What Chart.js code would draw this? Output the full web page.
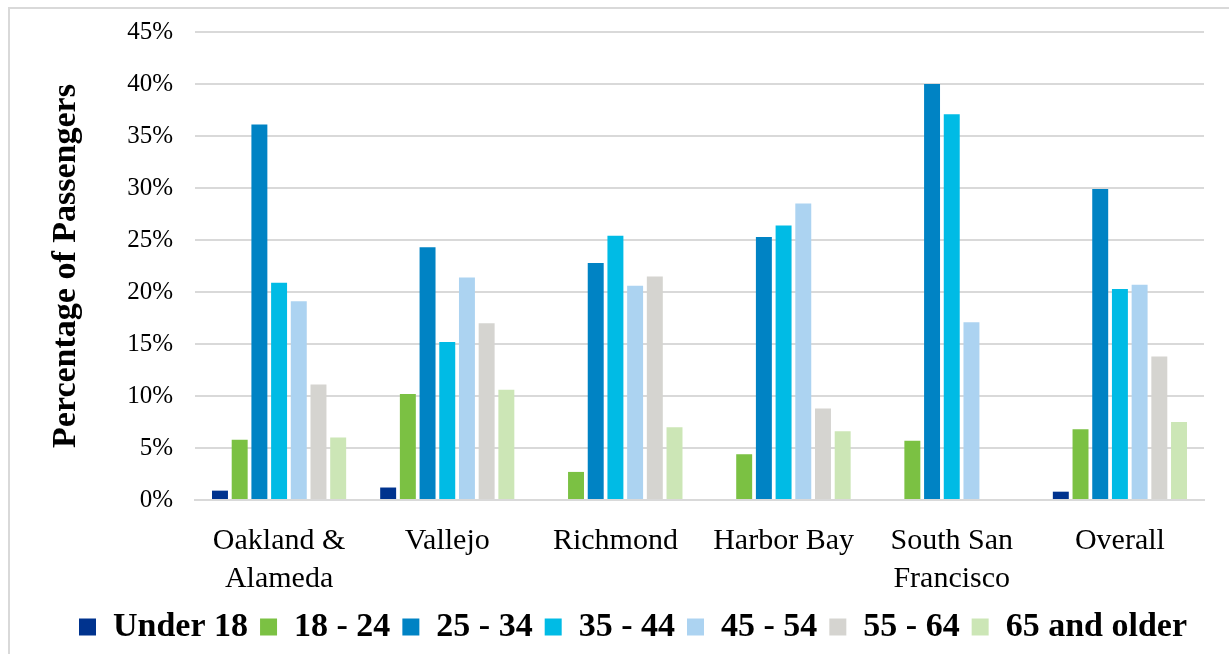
<!DOCTYPE html>
<html>
<head>
<meta charset="utf-8">
<script src="https://cdn.jsdelivr.net/npm/chart.js@4/dist/chart.umd.min.js"></script>
<style>
  html, body { margin: 0; padding: 0; background: #ffffff; }
  #wrap { position: relative; width: 1229px; height: 654px; overflow: hidden; }
  #frame { position: absolute; left: 8px; top: 7px; width: 1300px; height: 700px;
           border-top: 2px solid #d9d9d9; border-left: 2px solid #d9d9d9; }
  #chart { position: absolute; left: 0; top: 0; }
</style>
</head>
<body>
<div id="wrap">
  <div id="frame"></div>
  <canvas id="chart" width="1229" height="654"></canvas>
</div>
<script>
// Ferry terminals and the share of riders in each age band (percent)
const terminals = [["Oakland &", "Alameda"], "Vallejo", "Richmond", "Harbor Bay", ["South San", "Francisco"], "Overall"];
const ageBands = ["Under 18", "18 - 24", "25 - 34", "35 - 44", "45 - 54", "55 - 64", "65 and older"];

const under18   = [0.9, 1.2, null, null, null, 0.8];
const age18to24 = [5.8, 10.2, 2.7, 4.4, 5.7, 6.8];
const age25to34 = [36.1, 24.3, 22.8, 25.3, 40.0, 29.9];
const age35to44 = [20.9, 15.2, 25.4, 26.4, 37.1, 20.3];
const age45to54 = [19.1, 21.4, 20.6, 28.5, 17.1, 20.7];
const age55to64 = [11.1, 17.0, 21.5, 8.8, null, 13.8];
const age65plus = [6.0, 10.6, 7.0, 6.6, null, 7.5];

const yTicks = [0, 5, 10, 15, 20, 25, 30, 35, 40, 45];

const bandColors = ["#00338e", "#7bc143", "#0083c4", "#00bbe5", "#acd3f1", "#d5d4d0", "#cce6b6"];
const bandValues = [under18, age18to24, age25to34, age35to44, age45to54, age55to64, age65plus];

const serif = "'Liberation Serif', 'Times New Roman', serif";

new Chart(document.getElementById("chart"), {
  type: "bar",
  data: {
    labels: terminals,
    datasets: ageBands.map((name, i) => ({
      label: name,
      data: bandValues[i],
      backgroundColor: bandColors[i],
      borderWidth: 0,
      categoryPercentage: 0.82,
      barPercentage: 0.81
    }))
  },
  options: {
    responsive: false,
    animation: false,
    devicePixelRatio: 1,
    layout: { padding: { left: 62, right: 25, top: 0, bottom: 0 } },
    plugins: {
      tooltip: { enabled: false },
      legend: {
        position: "bottom",
        labels: {
          color: "#000000",
          font: { family: serif, size: 34, weight: "bold" },
          boxWidth: 17,
          boxHeight: 17,
          padding: 12
        }
      }
    },
    scales: {
      x: {
        afterFit: (scale) => { scale.height = 98; },
        grid: { display: false, drawTicks: false },
        border: { display: true, color: "#d9d9d9", width: 2 },
        ticks: {
          color: "#000000",
          font: { family: serif, size: 30, lineHeight: 1.27 },
          padding: 22,
          maxRotation: 0,
          autoSkip: false
        }
      },
      y: {
        min: 0,
        max: 45,
        afterBuildTicks: (scale) => { scale.ticks = yTicks.map(v => ({ value: v })); },
        afterFit: (scale) => { scale.width = 133; scale.paddingTop = 32; },
        grid: { color: "#d9d9d9", lineWidth: 2, drawTicks: false },
        border: { display: false },
        ticks: {
          color: "#000000",
          font: { family: serif, size: 25, lineHeight: 0.8 },
          padding: 22,
          callback: (v) => v + "%"
        },
        title: {
          display: true,
          text: "Percentage of Passengers",
          color: "#000000",
          font: { family: serif, size: 34, weight: "bold" },
          padding: { top: -16, bottom: 0 }
        }
      }
    }
  }
});
</script>
</body>
</html>
